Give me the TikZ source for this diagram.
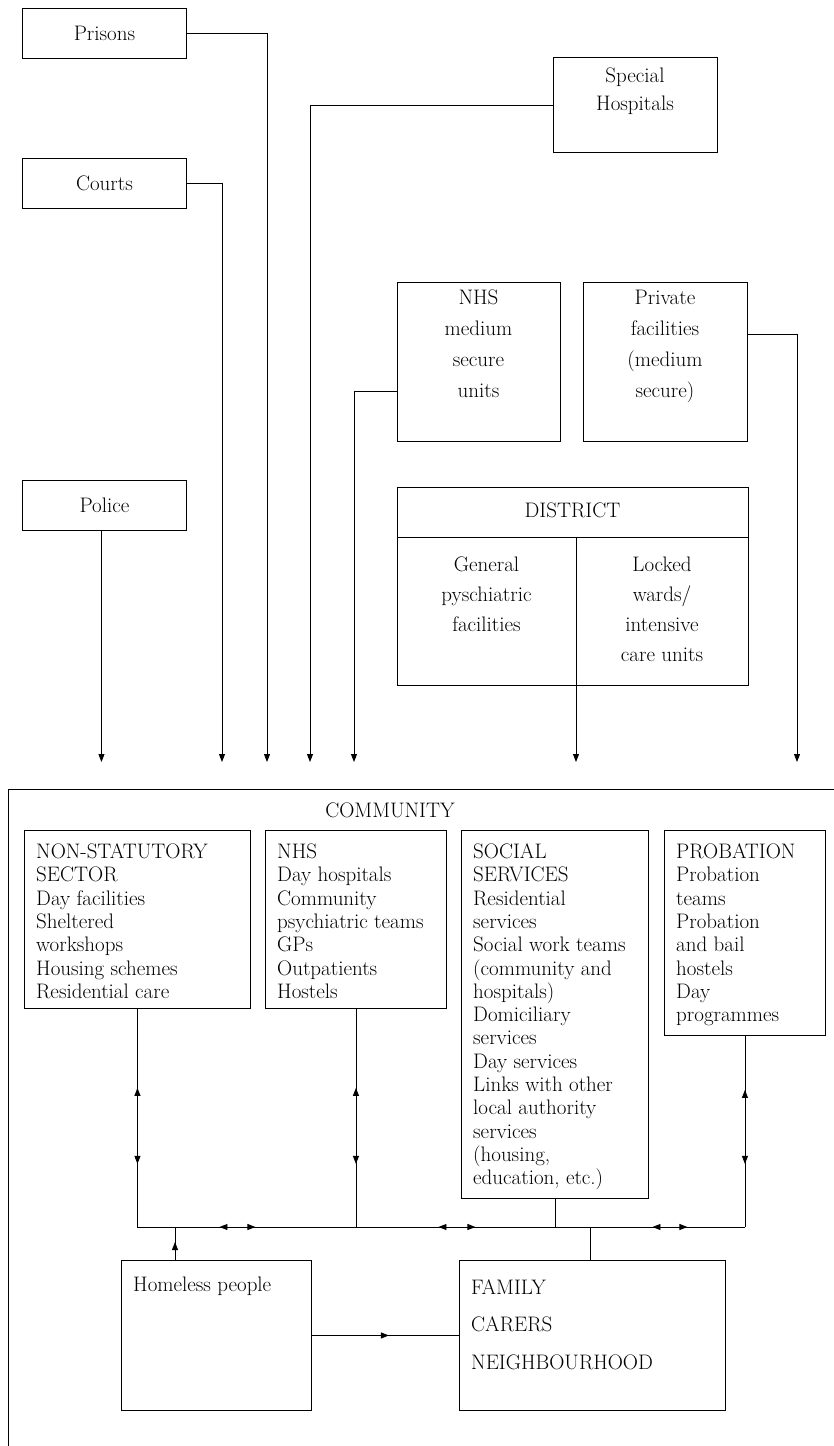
\documentclass[tikz,border=0pt]{standalone}
\usepackage{fontspec}
\usetikzlibrary{arrows.meta,decorations.markings}
\begin{document}
\begin{tikzpicture}[x=1pt,y=-1pt,
  every node/.style={font=\fontsize{21}{23.3}\selectfont, inner sep=0pt},
  box/.style={draw, line width=0.9pt, rectangle, inner sep=0pt, anchor=north west},
  txt/.style={align=left, anchor=north west},
  ctxt/.style={align=center, anchor=north},
  wide/.style={font=\fontsize{21}{31}\selectfont},
  conn/.style={line width=0.9pt},
  >={Triangle[length=8pt,width=6pt]},
  arr/.style={conn, ->},
  marks/.style={postaction={decorate}, decoration={markings, #1}}
]
\useasboundingbox (0,0) rectangle (834,1446);

% ---------- upper boxes ----------
\node[box, minimum width=164pt, minimum height=50pt] (prisons) at (22,8) {Prisons};
\node[box, minimum width=164pt, minimum height=50pt] (courts) at (22,158) {Courts};
\node[box, minimum width=164pt, minimum height=50pt] (police) at (22,480) {Police};

\node[box, minimum width=164pt, minimum height=95pt] (special) at (553,57) {};
\node[ctxt, font=\fontsize{21}{28}\selectfont] (specialT) at (635,63) {\strut Special\\Hospitals};

\node[box, minimum width=163pt, minimum height=159pt] (nhsmed) at (397,282) {};
\node[ctxt, wide] (nhsmedT) at (478.5,283) {\strut NHS\\medium\\secure\\units};

\node[box, minimum width=164pt, minimum height=159pt] (private) at (583,282) {};
\node[ctxt, wide] (privateT) at (665,283) {\strut Private\\facilities\\(medium\\secure)};

\node[box, minimum width=351pt, minimum height=198pt] (district) at (397,487) {};
\coordinate (divL) at (397,537);
\coordinate (divR) at (748,537);
\coordinate (divT) at (576,537);
\draw[conn] (divL) -- (divR);
\node (districtT) at (572.5,510) {DISTRICT};
\node[ctxt, font=\fontsize{21}{30}\selectfont] (generalT) at (486.5,550) {\strut General\\pyschiatric\\facilities};
\node[ctxt, font=\fontsize{21}{30}\selectfont] (lockedT) at (662,550) {\strut Locked\\wards/\\intensive\\care units};

% ---------- arrows down to community ----------
\coordinate (dA) at (576,762);
\coordinate (pA) at (267,762);
\coordinate (cA) at (222,762);
\coordinate (sA) at (310,762);
\coordinate (nA) at (354,762);
\coordinate (prA) at (797,762);

\draw[arr] (prisons.east) -| (pA);
\draw[arr] (courts.east) -| (cA);
\draw[arr] (special.west) -| (sA);
\draw[arr] ([yshift=50pt]nhsmed.south west) -| (nA);
\draw[arr] ([yshift=-52pt]private.north east) -| (prA);
\draw[arr] ([xshift=-3pt]police.south) -- ([xshift=-3pt]police.south |- dA);
\draw[arr] (divT) -- (dA);

% ---------- community ----------
\coordinate (cTL) at (8,789);
\coordinate (cTR) at (834,789);
\coordinate (cBL) at (8,1446);
\draw[conn] (cTR) -- (cTL) -- (cBL);
\node (commT) at (390,810) {COMMUNITY};

\node[box, minimum width=226pt, minimum height=178pt] (nonstat) at (24,830) {};
\node[txt] (nonstatT) at (36,842) {\strut NON-STATUTORY\\SECTOR\\Day facilities\\Sheltered\\workshops\\Housing schemes\\Residential care};

\node[box, minimum width=181pt, minimum height=178pt] (nhs) at (265,830) {};
\node[txt] (nhsT) at (277,842) {\strut NHS\\Day hospitals\\Community\\psychiatric teams\\GPs\\Outpatients\\Hostels};

\node[box, minimum width=187pt, minimum height=368pt] (social) at (461,830) {};
\node[txt] (socialT) at (473,842) {\strut SOCIAL\\SERVICES\\Residential\\services\\Social work teams\\(community and\\hospitals)\\Domiciliary\\services\\Day services\\Links with other\\local authority\\services\\(housing,\\education, etc.)};

\node[box, minimum width=161pt, minimum height=205pt] (probation) at (664,830) {};
\node[txt] (probationT) at (676,842) {\strut PROBATION\\Probation\\teams\\Probation\\and bail\\hostels\\Day\\programmes};

\node[box, minimum width=190pt, minimum height=150pt] (homeless) at (121,1260) {};
\node[txt] (homelessT) at (133,1275) {\strut Homeless people};

\node[box, minimum width=266pt, minimum height=150pt] (family) at (459,1260) {};
\node[txt, font=\fontsize{21}{37.5}\selectfont] (familyT) at (471,1268) {\strut FAMILY\\CARERS\\NEIGHBOURHOOD};

% ---------- bus ----------
\coordinate (bus) at (0,1227);
\draw[conn, marks={mark=at position 79pt with {\arrowreversed{>}}, mark=at position 155pt with {\arrow{>}}}]
  (nonstat.south) -- (nonstat.south |- bus);
\draw[conn, marks={mark=at position 79pt with {\arrowreversed{>}}, mark=at position 155pt with {\arrow{>}}}]
  (nhs.south) -- (nhs.south |- bus);
\draw[conn, marks={mark=at position 54pt with {\arrowreversed{>}}, mark=at position 128pt with {\arrow{>}}}]
  (probation.south) -- (probation.south |- bus);
\draw[conn] (social.south) -- (social.south |- bus);
\draw[conn, marks={mark=at position 82pt with {\arrowreversed{>}}, mark=at position 118pt with {\arrow{>}},
  mark=at position 301pt with {\arrowreversed{>}}, mark=at position 338pt with {\arrow{>}},
  mark=at position 515pt with {\arrowreversed{>}}, mark=at position 550pt with {\arrow{>}}}]
  (nonstat.south |- bus) -- (probation.south |- bus);
\draw[conn] ([xshift=131pt]family.north west) -- ([xshift=131pt]family.north west |- bus);
\draw[conn, marks={mark=at position 18pt with {\arrow{>}}}]
  ([xshift=54pt]homeless.north west) -- ([xshift=54pt]homeless.north west |- bus);
\draw[conn, marks={mark=at position 77pt with {\arrow{>}}}]
  (homeless.east) -- (family.west);
\end{tikzpicture}
\end{document}
